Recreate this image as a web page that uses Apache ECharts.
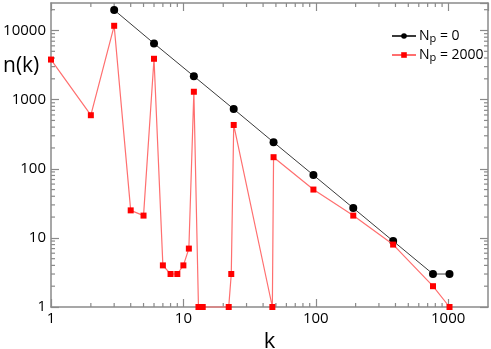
<!DOCTYPE html>
<html>
<head>
<meta charset="utf-8">
<script src="https://cdn.jsdelivr.net/npm/echarts@6/dist/echarts.min.js"></script>
<style>
  html, body { margin: 0; padding: 0; background: #fff; }
  #chart { width: 491px; height: 349px; }
</style>
</head>
<body>
<div id="chart"></div>
<script>
// N_p = 0
const kBlack = [3, 6, 12, 24, 48, 96, 192, 384, 768, 1024]
const nBlack = [19800, 6500, 2180, 730, 242, 81, 27, 9, 3, 3]
// N_p = 2000
const kRed = [1, 2, 3, 4, 5, 6, 7, 8, 9, 10, 11, 12, 13, 14, 22, 23, 24, 47, 48, 96, 192, 384, 768, 1024]
const nRed = [3800, 595, 11700, 25, 21, 3900, 4, 3, 3, 4, 7, 1300, 1, 1, 1, 3, 430, 1, 147, 50, 21, 8, 2, 1]

// axis range + ticks
const X_MIN = 1, X_MAX = 2000
const Y_MIN = 1, Y_MAX = 25000
const majorTicks = [1, 10, 100, 1000, 10000]
const xMinor = [2, 3, 4, 5, 6, 7, 8, 9, 20, 30, 40, 50, 60, 70, 80, 90, 200, 300, 400, 500, 600, 700, 800, 900]
const yMinor = [2, 3, 4, 5, 6, 7, 8, 9, 20, 30, 40, 50, 60, 70, 80, 90, 200, 300, 400, 500, 600, 700, 800, 900,
  2000, 3000, 4000, 5000, 6000, 7000, 8000, 9000, 20000]

const AXIS_COLOR = '#8a8a8a'
const FONT = '"Open Sans", sans-serif'

const myChart = echarts.init(document.getElementById('chart'))

// 主刻度标签只显示10的幂
const labelFmt = v => (majorTicks.indexOf(Math.round(v)) >= 0 ? String(Math.round(v)) : '')

function axisBase(type, min, max, position, showLabel) {
  return {
    type: 'log',
    logBase: 10,
    min: min,
    max: max,
    position: position,
    axisLine: { show: true, onZero: false, lineStyle: { color: AXIS_COLOR, width: 1.5 } },
    axisTick: { show: true, inside: true, length: 8, lineStyle: { color: AXIS_COLOR, width: 1.2 } },
    axisLabel: {
      show: showLabel,
      color: '#000',
      fontSize: 15,
      fontFamily: FONT,
      margin: type === 'x' ? 4 : 5,
      showMaxLabel: false,
      formatter: labelFmt
    },
    splitLine: { show: false },
    minorTick: { show: false }
  }
}

// 次刻度 (2..9) 用自定义系列画在四条边上
const minorTickSeries = [
  {
    type: 'custom',
    silent: true,
    clip: false,
    z: 1,
    data: xMinor.map(v => [v, Y_MIN]),
    renderItem(params, api) {
      const v = api.value(0)
      const b = api.coord([v, Y_MIN])
      const t = api.coord([v, Y_MAX])
      const style = { stroke: AXIS_COLOR, lineWidth: 1.2 }
      return {
        type: 'group',
        children: [
          { type: 'line', shape: { x1: b[0], y1: b[1], x2: b[0], y2: b[1] - 4 }, style },
          { type: 'line', shape: { x1: t[0], y1: t[1], x2: t[0], y2: t[1] + 4 }, style }
        ]
      }
    }
  },
  {
    type: 'custom',
    silent: true,
    clip: false,
    z: 1,
    data: yMinor.map(v => [X_MIN, v]),
    renderItem(params, api) {
      const v = api.value(1)
      const l = api.coord([X_MIN, v])
      const r = api.coord([X_MAX, v])
      const style = { stroke: AXIS_COLOR, lineWidth: 1.2 }
      return {
        type: 'group',
        children: [
          { type: 'line', shape: { x1: l[0], y1: l[1], x2: l[0] + 4, y2: l[1] }, style },
          { type: 'line', shape: { x1: r[0], y1: r[1], x2: r[0] - 4, y2: r[1] }, style }
        ]
      }
    }
  }
]

// 图例: N 下标 p
const legendRich = {
  n: { fontSize: 14, fontFamily: FONT, color: '#000', height: 16, lineHeight: 16 },
  s: { fontSize: 11, fontFamily: FONT, color: '#000', height: 12, lineHeight: 12, padding: [6, 0, 0, 0] }
}

myChart.setOption({
  animation: false,
  textStyle: { fontFamily: FONT },
  grid: { left: 51, right: 3, top: 3, bottom: 42, containLabel: false, outerBoundsMode: 'none' },
  xAxis: [
    Object.assign(axisBase('x', X_MIN, X_MAX, 'bottom', true), {
      name: 'k',
      nameLocation: 'middle',
      nameGap: 21,
      nameTextStyle: { fontSize: 22, color: '#000', fontFamily: FONT }
    }),
    axisBase('x', X_MIN, X_MAX, 'top', false)
  ],
  yAxis: [
    axisBase('y', Y_MIN, Y_MAX, 'left', true),
    axisBase('y', Y_MIN, Y_MAX, 'right', false)
  ],
  legend: {
    data: ['Np0', 'Np2000'],
    orient: 'vertical',
    left: 386,
    top: 22,
    itemWidth: 24,
    itemHeight: 7,
    itemGap: 1,
    formatter: name => (name === 'Np0' ? '{n|N}{s|p}{n| = 0}' : '{n|N}{s|p}{n| = 2000}'),
    textStyle: { rich: legendRich, padding: [0, 0, 0, -2] }
  },
  graphic: [
    {
      type: 'text',
      left: 3,
      top: 56,
      style: { text: 'n(k)', fontSize: 21, fontFamily: FONT, fill: '#000' }
    }
  ],
  series: [
    {
      name: 'Np0',
      type: 'line',
      data: kBlack.map((k, i) => [k, nBlack[i]]),
      symbol: 'circle',
      symbolSize: 8,
      clip: false,
      z: 3,
      lineStyle: { color: '#3a3a3a', width: 1 },
      itemStyle: { color: '#000' },
      legendIcon: 'path://M0,3.5A3.5,3.5,0,1,1,7,3.5A3.5,3.5,0,1,1,0,3.5ZM17,3.5A3.5,3.5,0,1,1,24,3.5A3.5,3.5,0,1,1,17,3.5ZM6,3h12v1h-12Z'
    },
    {
      name: 'Np2000',
      type: 'line',
      data: kRed.map((k, i) => [k, nRed[i]]),
      symbol: 'rect',
      symbolSize: 6,
      clip: false,
      z: 4,
      lineStyle: { color: '#ff6f6f', width: 1.2 },
      itemStyle: { color: '#ff0000' },
      legendIcon: 'path://M1,1h5v5h-5ZM18,1h5v5h-5ZM6,3h12v1h-12Z'
    }
  ].concat(minorTickSeries)
})
</script>
</body>
</html>
